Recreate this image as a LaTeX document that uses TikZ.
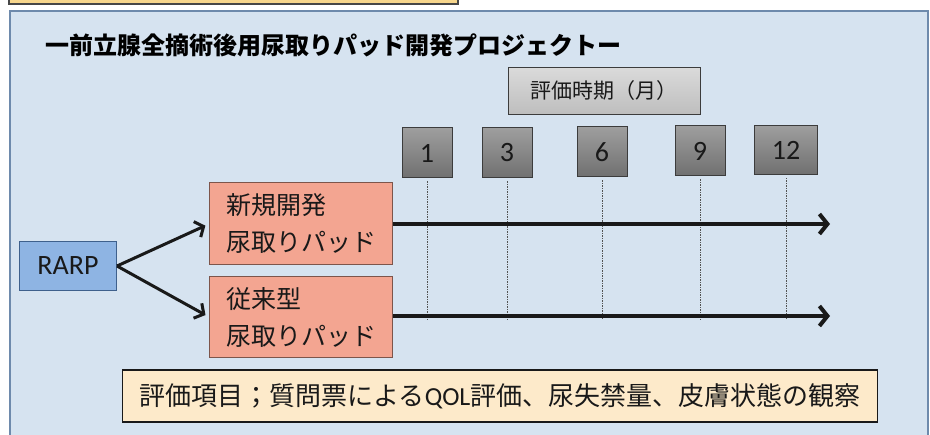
\documentclass[tikz,border=0pt]{standalone}
\usepackage{fontspec}
\setmainfont{Carlito}
\newfontfamily\jp{Noto Sans CJK JP}
\usepackage{xcolor}
\usepackage{tikz}
\usetikzlibrary{positioning,arrows.meta}
\definecolor{PanelBg}{RGB}{214, 227, 240}
\definecolor{PanelEdge}{RGB}{110, 138, 172}
\definecolor{Banner}{RGB}{247, 214, 140}
\definecolor{RarpBlue}{RGB}{142, 180, 227}
\definecolor{RarpEdge}{RGB}{62, 96, 140}
\definecolor{Salmon}{RGB}{243, 165, 145}
\definecolor{SalmonEdge}{RGB}{125, 85, 75}
\definecolor{MonthTop}{RGB}{158, 158, 158}
\definecolor{MonthBottom}{RGB}{112, 112, 112}
\definecolor{PeriodTop}{RGB}{218, 218, 218}
\definecolor{PeriodBottom}{RGB}{190, 190, 190}
\definecolor{Cream}{RGB}{253, 234, 202}
\definecolor{Ink}{RGB}{25, 25, 25}

\begin{document}
\begin{tikzpicture}[x=1pt, y=-1pt,
  month/.style={draw=Ink!85, line width=1pt, top color=MonthTop, bottom color=MonthBottom, minimum width=50pt, minimum height=50pt, text=Ink, font=\fontsize{28}{32}\selectfont},
  pad/.style={draw=SalmonEdge, line width=1pt, fill=Salmon, minimum width=183pt, minimum height=82pt, align=left, text=Ink, font=\jp\fontsize{25}{37}\selectfont},
  guide/.style={Ink!75, line width=0.9pt, dash pattern=on 1.5pt off 1pt},
  flow/.style={Ink, line width=3pt, -{Straight Barb[length=7pt, width=17pt]}},
  timeline/.style={Ink, line width=4pt, -{Straight Barb[length=8pt, width=20pt]}}]
\useasboundingbox (0,0) rectangle (930,435);
\fill[white] (0,0) rectangle (930,435);
\draw[Ink!80, line width=1.5pt, fill=Banner] (9,-10) rectangle (458,4);
\draw[PanelEdge, line width=2pt, fill=PanelBg] (10,11) rectangle (928,445);

\node[anchor=west, text=black, font=\jp\bfseries\fontsize{24}{28}\selectfont] (title) at (42,45) {一前立腺全摘術後用尿取りパッド開発プロジェクトー};

\node[draw=Ink!85, line width=1pt, top color=PeriodTop, bottom color=PeriodBottom, minimum width=192pt, minimum height=47pt, text=Ink, font=\jp\fontsize{21}{26}\selectfont] (period) at (604,91) {評価時期（月）};

\node[month] (m1) at (427,153) {1};
\node[month] (m3) at (507,153) {3};
\node[month] (m6) at (602,152) {6};
\node[month] (m9) at (700,151) {9};
\node[month, minimum width=63pt, minimum height=49pt] (m12) at (786,150) {12};
\coordinate (guideend) at (0,320);
\foreach \m in {m1,m3,m6,m9,m12}
  \draw[guide] ([yshift=-3pt]\m.south) -- (\m.south |- guideend);

\node[draw=RarpEdge, line width=1pt, fill=RarpBlue, minimum width=97pt, minimum height=49pt, text=Ink, font=\fontsize{28}{32}\selectfont] (rarp) at (68,266) {RARP};
\node[pad] (newpad) at (301,224) {新規開発\\尿取りパッド};
\node[pad, minimum height=81pt] (oldpad) at (301,317) {従来型\\尿取りパッド};

\coordinate (newend) at (830,224);
\coordinate (oldend) at (830,316);
\draw[flow, shorten >=4pt] (rarp.east) -- (newpad.west);
\draw[flow, shorten >=4pt] (rarp.east) -- (oldpad.west);
\draw[timeline] (newpad.east) -- (newend);
\draw[timeline] (oldpad.east |- oldend) -- (oldend);

\node[draw=Ink, line width=1.8pt, fill=Cream, minimum width=755pt, minimum height=52pt, text=Ink, font=\fontsize{26}{30}\selectfont] (items) at (500,396) {{\jp 評価項目；質問票による}QOL{\jp 評価、尿失禁量、皮膚状態の観察}};
\end{tikzpicture}
\end{document}
